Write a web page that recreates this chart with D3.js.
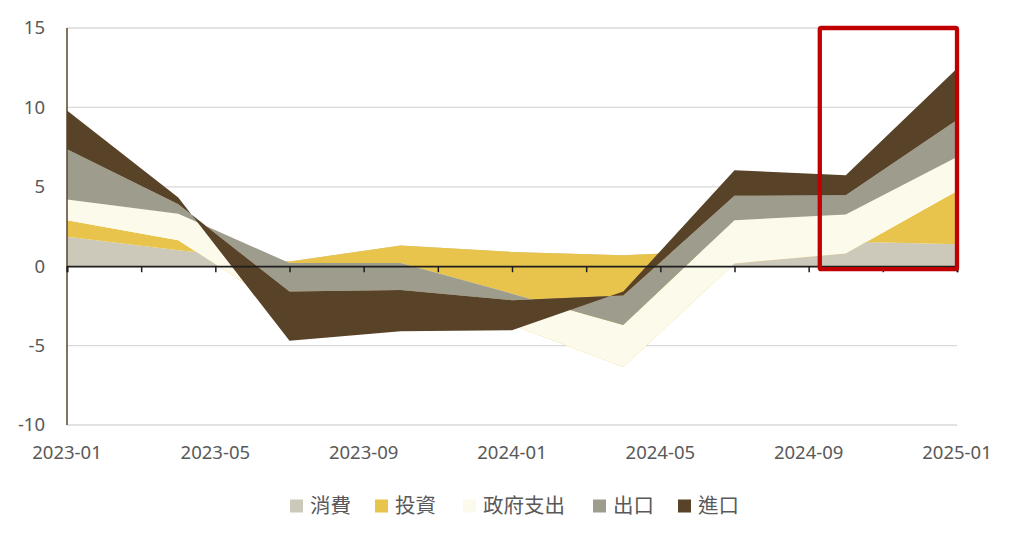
<!DOCTYPE html>
<html>
<head>
<meta charset="utf-8">
<script src="https://cdn.jsdelivr.net/npm/d3@7"></script>
<style>
  body { margin: 0; background: #fff; }
  text { font-family: "Noto Sans", "Noto Sans CJK TC", sans-serif; fill: #595959; }
</style>
</head>
<body>
<div id="chart"></div>
<script>
// quarterly points, as month index from 2023-01
var months = [0, 3, 6, 9, 12, 15, 18, 21, 24];
var seriesNames = ["消費", "投資", "政府支出", "出口", "進口"];
var consumption = [1.85, 1.0, 0.3, 1.3, 0.9, 0.69, 1.0, 1.55, 1.38];
var investment = [1.05, 0.64, -3.2, -3.8, -4.6, -7.04, -0.83, -0.75, 3.36];
var government = [1.3, 1.66, 3.1, 2.7, 1.97, 2.65, 2.73, 2.45, 2.14];
var exports = [3.17, 0.6, -1.8, -1.7, -0.41, 1.85, 1.53, 1.22, 2.32];
var imports = [2.43, 0.43, -3.1, -2.6, -1.89, 0.25, 1.62, 1.26, 3.25];
var xTickLabels = ["2023-01", "2023-05", "2023-09", "2024-01", "2024-05", "2024-09", "2025-01"];
var yTicks = [-10, -5, 0, 5, 10, 15];
var colors = ["#cdc9ba", "#e9c44c", "#fcfaeb", "#9e9c8d", "#594328"];

var svgWidth = 1024;
var svgHeight = 544;

var svg = d3.select("#chart")
  .append("svg")
  .attr("width", svgWidth)
  .attr("height", svgHeight);

var x = d3.scaleLinear().domain([0, 24]).range([67, 957]);
var y = d3.scaleLinear().domain([-10, 15]).range([425, 28]);

// build rows for d3.stack (plain cumulative sums, like the spreadsheet does)
var rows = months.map(function(m, i) {
  return {
    month: m,
    "消費": consumption[i],
    "投資": investment[i],
    "政府支出": government[i],
    "出口": exports[i],
    "進口": imports[i]
  };
});

var stacked = d3.stack().keys(seriesNames)(rows);

// gridlines
svg.append("g")
  .selectAll("line")
  .data(yTicks.filter(function(d) { return d !== 0; }))
  .enter()
  .append("line")
  .attr("x1", x(0))
  .attr("x2", x(24))
  .attr("y1", function(d) { return y(d); })
  .attr("y2", function(d) { return y(d); })
  .attr("stroke", "#d9d9d9")
  .attr("stroke-width", 1.3);

// areas, later series drawn on top
var area = d3.area()
  .x(function(d) { return x(d.data.month); })
  .y0(function(d) { return y(d[0]); })
  .y1(function(d) { return y(d[1]); });

svg.append("g")
  .selectAll("path")
  .data(stacked)
  .enter()
  .append("path")
  .attr("d", area)
  .attr("fill", function(d, i) { return colors[i]; });

// left axis line
svg.append("line")
  .attr("x1", x(0))
  .attr("x2", x(0))
  .attr("y1", y(15))
  .attr("y2", y(-10))
  .attr("stroke", "#594328")
  .attr("stroke-width", 1.5);

// zero axis with ticks every 2 months
var bottomAxis = d3.axisBottom(x)
  .tickValues(d3.range(0, 25, 2))
  .tickSize(6)
  .tickFormat("");

svg.append("g")
  .attr("transform", "translate(0," + y(0) + ")")
  .call(bottomAxis)
  .call(function(g) {
    g.select(".domain").attr("stroke", "#1e1e1e").attr("stroke-width", 1.8);
    g.selectAll(".tick line").attr("stroke", "#1e1e1e").attr("stroke-width", 1.5);
  });

// y labels
svg.append("g")
  .selectAll("text")
  .data(yTicks)
  .enter()
  .append("text")
  .attr("x", 45)
  .attr("y", function(d) { return y(d); })
  .attr("dy", "0.35em")
  .attr("text-anchor", "end")
  .style("font-size", "18.5px")
  .text(function(d) { return d; });

// x labels, low position
svg.append("g")
  .selectAll("text")
  .data(xTickLabels)
  .enter()
  .append("text")
  .attr("x", function(d, i) { return x(i * 4); })
  .attr("y", 453)
  .attr("dy", "0.35em")
  .attr("text-anchor", "middle")
  .style("font-size", "18.5px")
  .text(function(d) { return d; });

// highlight box
svg.append("rect")
  .attr("x", x(20.3))
  .attr("y", y(15))
  .attr("width", x(24) - x(20.3))
  .attr("height", y(0) - y(15) + 3)
  .attr("fill", "none")
  .attr("stroke", "#c00000")
  .attr("stroke-width", 4.3)
  .attr("rx", 1.5);

// legend
var legendX = [290, 375, 463, 593, 678];
var legend = svg.append("g")
  .selectAll("g")
  .data(seriesNames)
  .enter()
  .append("g")
  .attr("transform", function(d, i) { return "translate(" + legendX[i] + ",506)"; });

legend.append("rect")
  .attr("x", 0)
  .attr("y", -6.5)
  .attr("width", 13)
  .attr("height", 13)
  .attr("fill", function(d, i) { return colors[i]; });

legend.append("text")
  .attr("x", 20)
  .attr("y", 0)
  .attr("dy", "0.35em")
  .style("font-size", "20.5px")
  .text(function(d) { return d; });
</script>
</body>
</html>
